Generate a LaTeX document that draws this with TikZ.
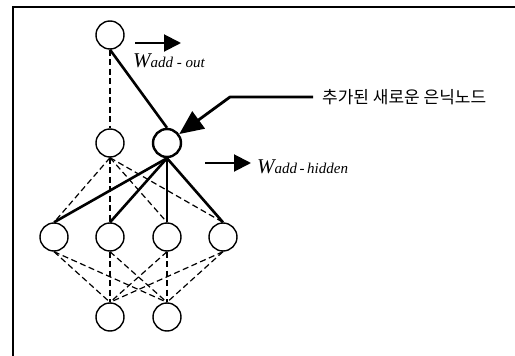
\documentclass[tikz,border=0pt]{standalone}
\usepackage{fontspec}
\setmainfont{Liberation Serif}
\newfontfamily\kr{Noto Sans CJK KR}
\usetikzlibrary{arrows.meta}
\begin{document}
\begin{tikzpicture}[x=1pt,y=-1pt,
  neuron/.style={circle,draw,line width=1.4pt,minimum size=28pt,inner sep=0pt},
  newneuron/.style={neuron,line width=2.4pt},
  dashedge/.style={dashed,dash pattern=on 6pt off 3.5pt,line width=1.2pt},
  solidedge/.style={line width=2.6pt},
  warrow/.style={line width=2pt,-{Triangle[length=17pt,width=17pt]}},
  bigarrow/.style={line width=2.8pt,line join=round,-{Triangle[length=24pt,width=21pt]}},
  wlabel/.style={inner sep=0pt,anchor=base west},
  frameline/.style={line width=2pt}
]
\useasboundingbox (0,0) rectangle (515,356);
% frame
\draw[frameline] (13,356) -- (13,7) -- (515,7);
% nodes
\node[neuron] (o1) at (110,35) {};
\node[neuron] (h1) at (110,143) {};
\node[newneuron] (hn) at (167,143) {};
\node[neuron] (i1) at (54,237) {};
\node[neuron] (i2) at (110,237) {};
\node[neuron] (i3) at (167,237) {};
\node[neuron] (i4) at (223,237) {};
\node[neuron] (y1) at (110,317) {};
\node[neuron] (y2) at (167,317) {};
% connections
\draw[dashedge] (o1.south) -- (h1.north);
\draw[solidedge] (o1.south) -- (hn.north);
\foreach \k in {1,2,3,4} {
  \draw[dashedge] (h1.south) -- (i\k.north);
  \draw[solidedge] (hn.south) -- (i\k.north);
  \draw[dashedge] (i\k.south) -- (y1.north);
  \draw[dashedge] (i\k.south) -- (y2.north);
}
% weight labels
\coordinate (wa0) at (135,43);
\coordinate (wa1) at (181,43);
\draw[warrow] (wa0) -- (wa1);
\node[wlabel] (wout) at (133,67) {\fontsize{21}{21}\selectfont\itshape W\fontsize{15}{15}\selectfont add - out};
\coordinate (wb0) at (205,163);
\coordinate (wb1) at (251,163);
\draw[warrow] (wb0) -- (wb1);
\node[wlabel] (whid) at (257,173) {\fontsize{21}{21}\selectfont\itshape W\fontsize{15}{15}\selectfont add\,-\,hidden};
% new node pointer
\node[inner sep=0pt,anchor=west] (lbl) at (322,97) {\kr\fontsize{17}{17}\selectfont 추가된 새로운 은닉노드};
\coordinate (p0) at (313,97);
\coordinate (p1) at (230,97);
\draw[bigarrow] (p0) -- (p1) -- (hn);
\end{tikzpicture}
\end{document}
